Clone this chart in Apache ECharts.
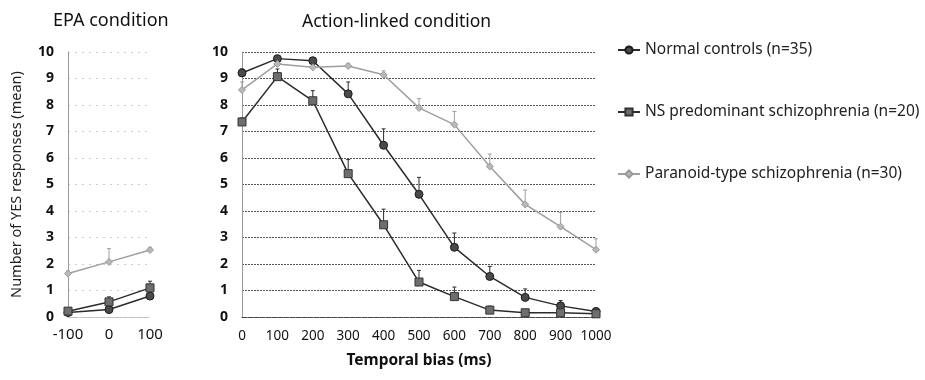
<!DOCTYPE html>
<html>
<head>
<meta charset="utf-8">
<script src="https://cdn.jsdelivr.net/npm/echarts@6/dist/echarts.min.js"></script>
<style>
  html, body { margin: 0; padding: 0; background: #fff; }
  #chart { width: 925px; height: 380px; }
</style>
</head>
<body>
<div id="chart"></div>
<script>
// EPA condition (left panel)
const epaX = [-100, 0, 100];
const epaNormal = [0.17, 0.28, 0.79];
const epaNS = [0.22, 0.57, 1.1];
const epaPara = [1.64, 2.08, 2.53];
const epaErrNormal = [0.08, 0.08, 0.1];
const epaErrNS = [0.1, 0.19, 0.25];
const epaErrPara = [0.1, 0.5, 0.1];

// Action-linked condition (main panel)
const biasX = [0, 100, 200, 300, 400, 500, 600, 700, 800, 900, 1000];
const actNormal = [9.21, 9.75, 9.67, 8.42, 6.48, 4.63, 2.63, 1.53, 0.74, 0.42, 0.21];
const actNS = [7.36, 9.07, 8.16, 5.41, 3.48, 1.32, 0.77, 0.26, 0.16, 0.16, 0.12];
const actPara = [8.57, 9.55, 9.42, 9.47, 9.14, 7.89, 7.26, 5.68, 4.25, 3.41, 2.54];
const actErrNormal = [0.15, 0.1, 0.1, 0.45, 0.62, 0.64, 0.54, 0.38, 0.32, 0.2, 0.12];
const actErrNS = [0.15, 0.29, 0.38, 0.53, 0.59, 0.44, 0.36, 0.15, 0.1, 0.1, 0.1];
const actErrPara = [0.3, 0.15, 0.1, 0.1, 0.15, 0.35, 0.5, 0.47, 0.54, 0.54, 0.41];

const names = ['Normal controls (n=35)', 'NS predominant schizophrenia (n=20)', 'Paranoid-type schizophrenia (n=30)'];

const FONT = '"Noto Sans", "Liberation Sans", sans-serif';
const styles = [
  { line: '#2b2b2b', fill: '#4a4a4a', border: '#1a1a1a', symbol: 'circle', size: 8 },
  { line: '#2b2b2b', fill: '#6e6e6e', border: '#333', symbol: 'rect', size: 8 },
  { line: '#9e9e9e', fill: '#b8b8b8', border: '#999', symbol: 'diamond', size: 7 }
];

const pairs = (xs, ys) => xs.map((x, i) => [x, ys[i]]);
const triples = (xs, ys, es) => xs.map((x, i) => [x, ys[i], es[i]]);

function errorBars(color) {
  return function (params, api) {
    const x = api.value(0), y = api.value(1), e = api.value(2);
    const p0 = api.coord([x, y]);
    const p1 = api.coord([x, y + e]);
    const st = { stroke: color, lineWidth: 1 };
    return {
      type: 'group',
      children: [
        { type: 'line', shape: { x1: p0[0], y1: p0[1], x2: p1[0], y2: p1[1] }, style: st },
        { type: 'line', shape: { x1: p1[0] - 2, y1: p1[1], x2: p1[0] + 2, y2: p1[1] }, style: st }
      ]
    };
  };
}

function lineSeries(name, idx, data, k) {
  const s = styles[k];
  return {
    name: name, type: 'line', xAxisIndex: idx, yAxisIndex: idx,
    data: data, symbol: s.symbol, symbolSize: s.size, z: 5,
    lineStyle: { color: s.line, width: 1.5 },
    itemStyle: { color: s.fill, borderColor: s.border, borderWidth: 1 },
    emphasis: { disabled: true }
  };
}

function errSeries(idx, data, k) {
  return {
    type: 'custom', xAxisIndex: idx, yAxisIndex: idx, z: 4,
    renderItem: errorBars(styles[k].line), data: data, silent: true
  };
}

const chart = echarts.init(document.getElementById('chart'), null, { renderer: 'canvas' });

const yLabel = { color: '#111', fontSize: 14, fontWeight: 'bold', fontFamily: FONT, margin: 14 };

chart.setOption({
  animation: false,
  textStyle: { fontFamily: FONT },
  title: [
    { text: 'EPA condition', left: 48, top: 7, textStyle: { fontSize: 18, fontWeight: 'normal', color: '#111' } },
    { text: 'Action-linked condition', left: 297, top: 8, textStyle: { fontSize: 17.5, fontWeight: 'normal', color: '#111' } }
  ],
  legend: {
    orient: 'vertical', left: 612, top: 37, itemGap: 46, itemWidth: 22, itemHeight: 9,
    textStyle: { fontSize: 15.5, color: '#222', fontFamily: FONT },
    data: names
  },
  grid: [
    { left: 68, right: 775, top: 52, bottom: 63 },
    { left: 242, right: 329, top: 52, bottom: 63 }
  ],
  xAxis: [
    {
      gridIndex: 0, type: 'value', min: -100, max: 100, interval: 100,
      axisLine: { lineStyle: { color: '#bbb', type: 'dotted' } },
      axisTick: { show: false }, splitLine: { show: false },
      axisLabel: { color: '#111', fontSize: 15, margin: 10, fontFamily: FONT }
    },
    {
      gridIndex: 1, type: 'value', min: 0, max: 1000, interval: 100,
      axisLine: { lineStyle: { color: '#444', type: 'dotted' } },
      axisTick: { show: false }, splitLine: { show: false },
      axisLabel: { color: '#111', fontSize: 13.5, margin: 12, fontFamily: FONT, formatter: v => String(v) },
      name: 'Temporal bias (ms)', nameLocation: 'middle', nameGap: 36,
      nameTextStyle: { fontSize: 15.5, fontWeight: 'bold', color: '#111', fontFamily: FONT }
    }
  ],
  yAxis: [
    {
      gridIndex: 0, type: 'value', min: 0, max: 10, interval: 1,
      axisLine: { show: true, onZero: false, lineStyle: { color: '#999' } },
      axisTick: { show: false },
      splitLine: { lineStyle: { color: '#ccc', type: [2, 5] } },
      axisLabel: yLabel,
      name: 'Number of YES responses (mean)', nameLocation: 'middle', nameGap: 44,
      nameTextStyle: { fontSize: 14.5, color: '#222', fontFamily: FONT }
    },
    {
      gridIndex: 1, type: 'value', min: 0, max: 10, interval: 1,
      axisLine: { show: true, onZero: false, lineStyle: { color: '#999' } },
      axisTick: { show: false },
      splitLine: { lineStyle: { color: '#555', type: [2, 1] } },
      axisLabel: yLabel
    }
  ],
  series: [
    errSeries(0, triples(epaX, epaNormal, epaErrNormal), 0),
    errSeries(0, triples(epaX, epaNS, epaErrNS), 1),
    errSeries(0, triples(epaX, epaPara, epaErrPara), 2),
    lineSeries(names[0], 0, pairs(epaX, epaNormal), 0),
    lineSeries(names[1], 0, pairs(epaX, epaNS), 1),
    lineSeries(names[2], 0, pairs(epaX, epaPara), 2),
    errSeries(1, triples(biasX, actNormal, actErrNormal), 0),
    errSeries(1, triples(biasX, actNS, actErrNS), 1),
    errSeries(1, triples(biasX, actPara, actErrPara), 2),
    lineSeries(names[0], 1, pairs(biasX, actNormal), 0),
    lineSeries(names[1], 1, pairs(biasX, actNS), 1),
    lineSeries(names[2], 1, pairs(biasX, actPara), 2)
  ]
});
</script>
</body>
</html>
